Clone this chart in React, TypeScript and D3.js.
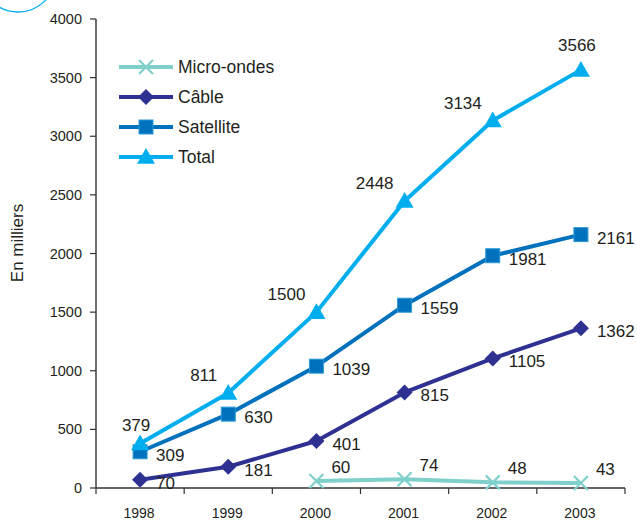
import React from "react";
import * as d3 from "d3";

const years = ["1998", "1999", "2000", "2001", "2002", "2003"];
const microOndes: (number | null)[] = [null, null, 60, 74, 48, 43];
const cable = [70, 181, 401, 815, 1105, 1362];
const satellite = [309, 630, 1039, 1559, 1981, 2161];
const total = [379, 811, 1500, 2448, 3134, 3566];
const yTicks = [0, 500, 1000, 1500, 2000, 2500, 3000, 3500, 4000];

const W = 637, H = 521;
const FONT = "'Liberation Sans', Arial, Helvetica, sans-serif";
const TXT = "#231f20";

const x = d3.scaleBand<string>().domain(years).range([96, 625]);
const y = d3.scaleLinear().domain([0, 4000]).range([488, 19]);
const cx = (yr: string) => (x(yr) as number) + x.bandwidth() / 2;

type Kind = "x" | "diamond" | "square" | "triangle";
const series = [
  { name: "Micro-ondes", values: microOndes, color: "#7fd0cb", kind: "x" as Kind },
  { name: "Câble", values: cable, color: "#2e3192", kind: "diamond" as Kind },
  { name: "Satellite", values: satellite, color: "#0071bc", kind: "square" as Kind },
  { name: "Total", values: total, color: "#00aeef", kind: "triangle" as Kind },
];

function Marker({ kind, color, px, py }: { kind: Kind; color: string; px: number; py: number }) {
  if (kind === "x") {
    const s = 7;
    return (
      <g stroke={color} strokeWidth={2.2}>
        <line x1={px - s} y1={py - s} x2={px + s} y2={py + s} />
        <line x1={px - s} y1={py + s} x2={px + s} y2={py - s} />
      </g>
    );
  }
  if (kind === "diamond") {
    const s = 8;
    return <path d={`M${px},${py - s}L${px + s},${py}L${px},${py + s}L${px - s},${py}Z`} fill={color} />;
  }
  if (kind === "square") {
    const s = 7;
    return <rect x={px - s} y={py - s} width={2 * s} height={2 * s} fill={color} stroke="#2a9ad6" strokeWidth={1} />;
  }
  const s = 9;
  return <path d={`M${px},${py - s}L${px + s},${py + s * 0.75}L${px - s},${py + s * 0.75}Z`} fill={color} />;
}

function labelPos(kind: Kind, i: number, n: number, px: number, py: number) {
  if (kind === "triangle") {
    if (i === 0) return { x: px - 4, y: py - 13, anchor: "middle" };
    if (i === n - 1) return { x: px - 4, y: py - 19, anchor: "middle" };
    return { x: px - 11, y: py - 12, anchor: "end" };
  }
  if (kind === "x") return { x: px + 15, y: py - 8, anchor: "start" };
  return { x: px + 16, y: py + 9, anchor: "start" };
}

export default function App() {
  const line = d3
    .line<number | null>()
    .defined((d) => d != null)
    .x((_, i) => cx(years[i]))
    .y((d) => y(d as number));

  return (
    <svg width={W} height={H} style={{ position: "absolute", left: 0, top: 0 }} fontFamily={FONT}>
      <rect width={W} height={H} fill="#fff" />
      <circle cx={18} cy={-26} r={38} fill="none" stroke="#00aeef" strokeWidth={1.3} />

      {/* Y axis */}
      <line x1={96} y1={y(4000)} x2={96} y2={y(0)} stroke="#333" strokeWidth={1.4} />
      {yTicks.map((t) => (
        <g key={t}>
          <line x1={90} x2={96} y1={y(t)} y2={y(t)} stroke="#333" strokeWidth={1.2} />
          <text x={82} y={y(t) + 5} textAnchor="end" fontSize={14.5} fill={TXT}>
            {t}
          </text>
        </g>
      ))}
      <text
        transform={`translate(23,243) rotate(-90)`}
        textAnchor="middle"
        fontSize={17}
        fill={TXT}
      >
        En milliers
      </text>

      {/* X axis */}
      <line x1={96} y1={y(0)} x2={625} y2={y(0)} stroke="#333" strokeWidth={1.4} />
      {[...years.map((yr) => x(yr) as number), 625].map((bx, i) => (
        <line key={i} x1={bx} x2={bx} y1={y(0)} y2={y(0) + 6} stroke="#333" strokeWidth={1.2} />
      ))}
      {years.map((yr) => (
        <text key={yr} x={cx(yr) - 1} y={518} textAnchor="middle" fontSize={14} fill={TXT}>
          {yr}
        </text>
      ))}

      {/* lines */}
      {series.map((s) => (
        <path key={s.name} d={line(s.values) || ""} fill="none" stroke={s.color} strokeWidth={4} strokeLinejoin="round" />
      ))}
      {/* markers */}
      {series.map((s) => (
        <g key={s.name}>
          {s.values.map((v, i) =>
            v == null ? null : <Marker key={i} kind={s.kind} color={s.color} px={cx(years[i])} py={y(v)} />
          )}
        </g>
      ))}
      {/* labels */}
      {series.map((s) => (
        <g key={s.name}>
          {s.values.map((v, i) => {
            if (v == null) return null;
            const p = labelPos(s.kind, i, s.values.length, cx(years[i]), y(v));
            return (
              <text key={i} x={p.x} y={p.y} textAnchor={p.anchor as any} fontSize={17} fill={TXT}>
                {v}
              </text>
            );
          })}
        </g>
      ))}

      {/* legend */}
      {series.map((s, i) => {
        const ly = 67 + i * 30;
        return (
          <g key={s.name}>
            <line x1={119} x2={173} y1={ly} y2={ly} stroke={s.color} strokeWidth={4} />
            <Marker kind={s.kind} color={s.color} px={146} py={ly} />
            <text x={178} y={ly + 6} fontSize={17.5} fill={TXT}>
              {s.name}
            </text>
          </g>
        );
      })}
    </svg>
  );
}
